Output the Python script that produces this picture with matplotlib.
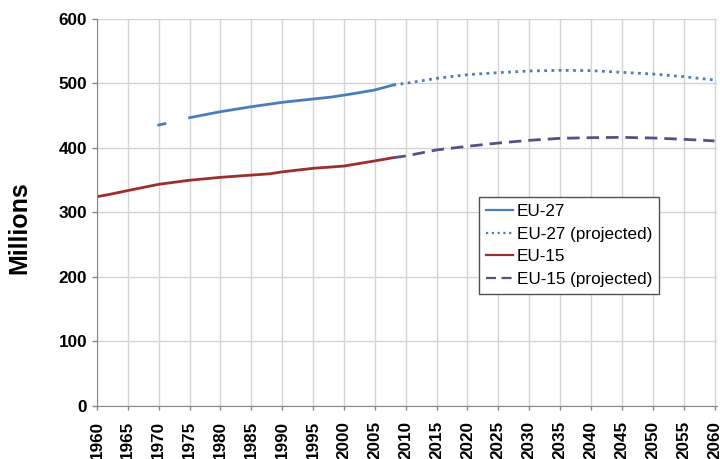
import numpy as np
import matplotlib.pyplot as plt

plt.rcParams['font.family'] = ['Liberation Sans', 'DejaVu Sans']

# EU-27 observed (gap 1972-1974 as in source)
eu27_years = [1970, 1971, 1972, 1975, 1980, 1985, 1990, 1995, 1998, 2000, 2002, 2005, 2008]
eu27_vals = [435.7, 437.7, np.nan, 447, 456.3, 464, 470.8, 476, 479, 482, 485, 490, 497.7]

# EU-27 projected
eu27p_years = [2008, 2010, 2015, 2020, 2025, 2030, 2035, 2040, 2045, 2050, 2055, 2060]
eu27p_vals = [497.7, 500.3, 508, 513.7, 516.8, 519.4, 520.4, 520, 517.3, 514.7, 510.6, 505.4]

# EU-15 observed
eu15_years = [1960, 1962, 1965, 1970, 1975, 1980, 1985, 1988, 1990, 1995, 2000, 2005, 2008]
eu15_vals = [324.5, 328, 334, 343.7, 350, 354.5, 358, 360, 363, 368.5, 372, 380, 385]

# EU-15 projected
eu15p_years = [2008, 2010, 2015, 2020, 2025, 2030, 2035, 2040, 2045, 2050, 2055, 2060]
eu15p_vals = [385, 387.6, 397, 402.6, 407.7, 411.9, 415, 416, 416.5, 415.5, 413.5, 411]

fig = plt.figure(figsize=(7.2, 4.59), dpi=100)
ax = fig.add_axes([0.1347, 0.1155, 0.8611, 0.8431])

ax.plot(eu27_years, eu27_vals, color="#4a7ebb", lw=2, label="EU-27")
ax.plot(eu27p_years, eu27p_vals, color="#4a7ebb", lw=2, ls=(0, (1, 1.6)), label="EU-27 (projected)")
ax.plot(eu15_years, eu15_vals, color="#9b2f2c", lw=2, label="EU-15")
ax.plot(eu15p_years, eu15p_vals, color="#5e4b88", lw=2, ls=(0, (4.5, 2.5)), label="EU-15 (projected)")

ax.set_xlim(1960, 2060.4)
ax.set_ylim(0, 600)
ax.set_xticks(range(1960, 2061, 5))
ax.set_xticklabels([str(y) for y in range(1960, 2061, 5)], rotation=90, fontweight="bold", fontsize=12.3)
ax.set_yticks(range(0, 601, 100))
ax.set_yticklabels([str(v) for v in range(0, 601, 100)], fontweight="bold", fontsize=12.3)
ax.set_ylabel("Millions", fontweight="bold", fontsize=18)
ax.yaxis.set_label_coords(31 / 720, 1 - 228 / 459, transform=fig.transFigure)

ax.grid(True, color="#d4d4d4", lw=1)
ax.set_axisbelow(True)
for s in ["top", "right"]:
    ax.spines[s].set_visible(False)
for s in ["left", "bottom"]:
    ax.spines[s].set_color("#868686")
ax.tick_params(axis="y", color="#868686", length=3.5, width=1, pad=3.5)
ax.tick_params(axis="x", color="#868686", length=3, width=1, pad=7.5)

leg = ax.legend(loc="upper left", bbox_to_anchor=(479 / 720, 1 - 197 / 459), bbox_transform=fig.transFigure,
                fancybox=False, edgecolor="#505050", fontsize=12.3, handlelength=1.6, handletextpad=0.2,
                borderpad=0.4, borderaxespad=0, labelspacing=0.45, framealpha=1)
leg.get_frame().set_linewidth(1)
for h in leg.get_lines():
    h.set_linewidth(1.6)

plt.savefig("out.png", dpi=100)
